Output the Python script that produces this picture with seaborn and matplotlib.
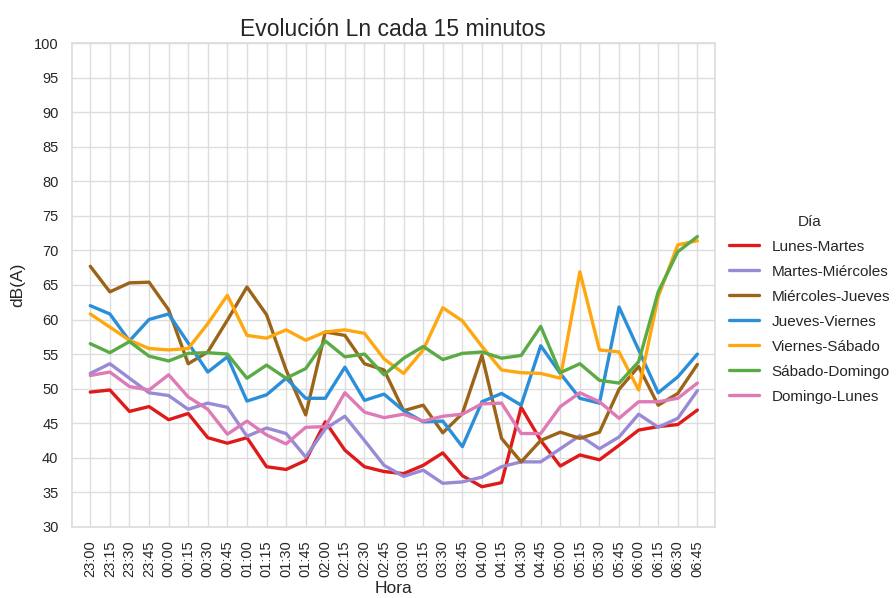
import pandas as pd
import seaborn as sns
import matplotlib.pyplot as plt

horas = ['23:00', '23:15', '23:30', '23:45', '00:00', '00:15', '00:30', '00:45',
         '01:00', '01:15', '01:30', '01:45', '02:00', '02:15', '02:30', '02:45',
         '03:00', '03:15', '03:30', '03:45', '04:00', '04:15', '04:30', '04:45',
         '05:00', '05:15', '05:30', '05:45', '06:00', '06:15', '06:30', '06:45']

lunes_martes = [49.5, 49.8, 46.7, 47.4, 45.5, 46.4, 42.9, 42.1, 42.9, 38.7, 38.3, 39.6,
                45.2, 41.1, 38.7, 38.0, 37.7, 38.9, 40.7, 37.4, 35.8, 36.4, 47.3, 42.5,
                38.8, 40.4, 39.7, 41.8, 44.0, 44.5, 44.8, 46.9]
martes_miercoles = [52.2, 53.6, 51.5, 49.4, 49.0, 47.0, 47.9, 47.3, 43.1, 44.3, 43.5, 40.1,
                    44.2, 46.0, 42.5, 38.9, 37.3, 38.2, 36.3, 36.5, 37.2, 38.7, 39.4, 39.4,
                    41.3, 43.2, 41.3, 43.0, 46.3, 44.4, 45.7, 49.7]
miercoles_jueves = [67.7, 64.0, 65.3, 65.4, 61.4, 53.6, 55.3, 59.9, 64.7, 60.7, 52.7, 46.2,
                    58.2, 57.7, 53.6, 52.7, 46.8, 47.6, 43.6, 46.4, 54.8, 42.8, 39.4, 42.5,
                    43.7, 42.8, 43.7, 49.9, 53.2, 47.6, 49.3, 53.5]
jueves_viernes = [62.0, 60.8, 56.9, 60.0, 60.8, 56.6, 52.4, 54.6, 48.2, 49.1, 51.5, 48.6,
                  48.6, 53.1, 48.3, 49.2, 46.8, 45.2, 45.3, 41.6, 48.1, 49.3, 47.6, 56.2,
                  52.2, 48.6, 47.9, 61.8, 55.6, 49.4, 51.7, 55.0]
viernes_sabado = [60.8, 58.9, 57.0, 55.8, 55.6, 55.8, 59.4, 63.5, 57.7, 57.3, 58.5, 57.0,
                  58.2, 58.5, 58.0, 54.3, 52.2, 55.6, 61.7, 59.8, 56.1, 52.7, 52.3, 52.2,
                  51.5, 66.9, 55.6, 55.3, 49.8, 63.3, 70.8, 71.4]
sabado_domingo = [56.5, 55.2, 56.8, 54.7, 54.0, 55.1, 55.2, 55.0, 51.5, 53.4, 51.5, 52.9,
                  56.9, 54.6, 55.0, 52.0, 54.4, 56.1, 54.2, 55.1, 55.3, 54.4, 54.8, 59.0,
                  52.3, 53.6, 51.2, 50.8, 53.9, 64.0, 69.8, 72.0]
domingo_lunes = [51.9, 52.4, 50.3, 49.8, 52.0, 48.8, 47.0, 43.4, 45.3, 43.3, 42.0, 44.4,
                 44.5, 49.4, 46.6, 45.8, 46.3, 45.3, 46.0, 46.3, 47.8, 47.9, 43.5, 43.5,
                 47.4, 49.4, 48.1, 45.7, 48.1, 48.1, 48.6, 50.8]

series = {
    'Lunes-Martes': lunes_martes,
    'Martes-Miércoles': martes_miercoles,
    'Miércoles-Jueves': miercoles_jueves,
    'Jueves-Viernes': jueves_viernes,
    'Viernes-Sábado': viernes_sabado,
    'Sábado-Domingo': sabado_domingo,
    'Domingo-Lunes': domingo_lunes,
}
colores = ['#de1a1a', '#9a8ad6', '#9c6418', '#2b8ed8', '#ffa70f', '#5aab45', '#de7bb6']

df = pd.concat([pd.DataFrame({'Hora': horas, 'dB(A)': v, 'Día': k})
                for k, v in series.items()], ignore_index=True)

sns.set_theme(style='whitegrid')
plt.rcParams['font.family'] = ['Liberation Sans', 'DejaVu Sans']

fig = plt.figure(figsize=(8.96, 5.98), dpi=100)
ax = fig.add_axes([0.080, 0.119, 0.718, 0.809])
sns.lineplot(data=df, x='Hora', y='dB(A)', hue='Día', palette=colores,
             linewidth=2.4, sort=False, ax=ax)

ax.set_ylim(30, 100)
ax.set_yticks(range(30, 101, 5))
ax.set_xlim(-0.95, 31.9)
ax.tick_params(axis='x', rotation=90, labelsize=10.5)
ax.tick_params(axis='y', labelsize=10.5)
ax.set_xlabel('Hora', fontsize=12.5, labelpad=3)
ax.set_ylabel('dB(A)', fontsize=12.5, labelpad=6)
ax.set_title('Evolución Ln cada 15 minutos', fontsize=16.5, pad=5)
ax.grid(color='#dddddd', linewidth=1)
for s in ax.spines.values():
    s.set_color('#dddddd')

leg = ax.legend(title='Día', loc='center left', bbox_to_anchor=(1.0, 0.45),
                frameon=False, fontsize=11, title_fontsize=11, labelspacing=0.72)

fig.savefig('out.png', dpi=100)
